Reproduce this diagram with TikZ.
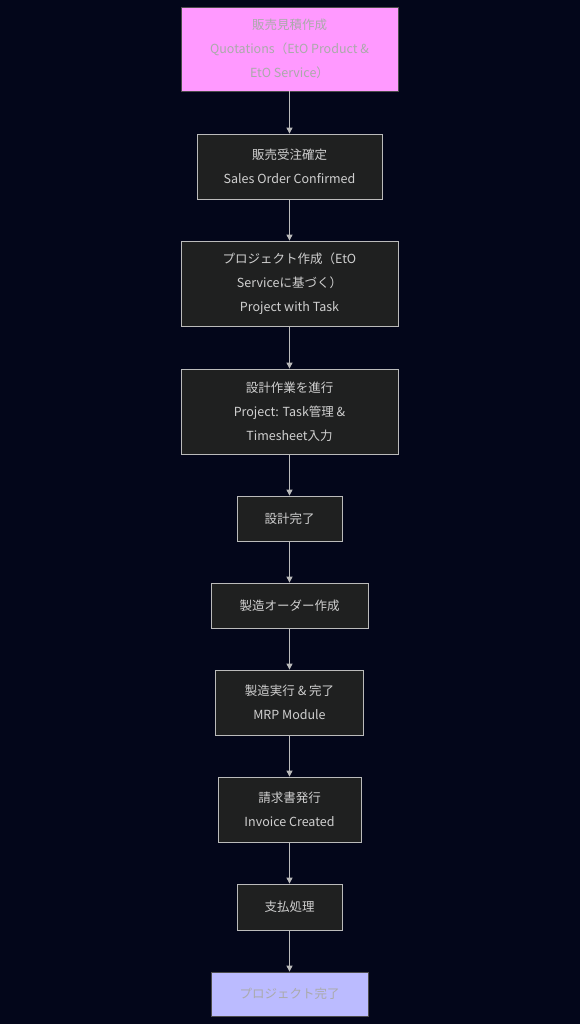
\documentclass[tikz,border=0pt]{standalone}
\usepackage{fontspec}
\setmainfont{Noto Sans CJK JP}
\usetikzlibrary{arrows.meta}
\definecolor{bg}{HTML}{03061A}
\definecolor{nodefill}{HTML}{1F2020}
\definecolor{nodeline}{HTML}{BBBBBB}
\definecolor{txt}{HTML}{D0D0D0}
\definecolor{pinkfill}{HTML}{FF99FF}
\definecolor{lavfill}{HTML}{BBBBFF}
\definecolor{dimtxt}{HTML}{AAAAAA}
\tikzset{
  box/.style={draw=nodeline, fill=nodefill, text=txt, line width=0.8pt, align=center,
    font=\fontsize{12.5}{24}\selectfont, inner sep=0pt},
  pinkbox/.style={box, fill=pinkfill, draw=black!70, text=dimtxt},
  lavbox/.style={box, fill=lavfill, draw=black!70, text=dimtxt},
  conn/.style={draw=nodeline, line width=1pt, -{Triangle[length=6pt,width=6pt]}}
}
\begin{document}
\begin{tikzpicture}[x=1pt,y=-1pt]
\fill[bg] (0,0) rectangle (580,1024);
\useasboundingbox (0,0) rectangle (580,1024);
\node[pinkbox, minimum width=217pt, minimum height=84pt] (n1) at (289.5,49) {販売見積作成\\Quotations（EtO Product \&\\EtO Service）};
\node[box, minimum width=185pt, minimum height=65pt] (n2) at (289.5,166.5) {販売受注確定\\Sales Order Confirmed};
\node[box, minimum width=217pt, minimum height=85pt] (n3) at (289.5,283.5) {プロジェクト作成（EtO\\Serviceに基づく）\\Project with Task};
\node[box, minimum width=217pt, minimum height=85pt] (n4) at (289.5,411.5) {設計作業を進行\\Project: Task管理 \&\\Timesheet入力};
\node[box, minimum width=105pt, minimum height=45pt] (n5) at (289.5,518.5) {設計完了};
\node[box, minimum width=157pt, minimum height=45pt] (n6) at (289.5,605.5) {製造オーダー作成};
\node[box, minimum width=148pt, minimum height=65pt] (n7) at (289.5,702.5) {製造実行 \& 完了\\MRP Module};
\node[box, minimum width=143pt, minimum height=65pt] (n8) at (289.5,809.5) {請求書発行\\Invoice Created};
\node[box, minimum width=105pt, minimum height=46pt] (n9) at (289.5,907) {支払処理};
\node[lavbox, minimum width=157pt, minimum height=44pt] (n10) at (289.5,994) {プロジェクト完了};
\foreach \a/\b in {n1/n2,n2/n3,n3/n4,n4/n5,n5/n6,n6/n7,n7/n8,n8/n9,n9/n10}
  \draw[conn] (\a) -- (\b);
\end{tikzpicture}
\end{document}
